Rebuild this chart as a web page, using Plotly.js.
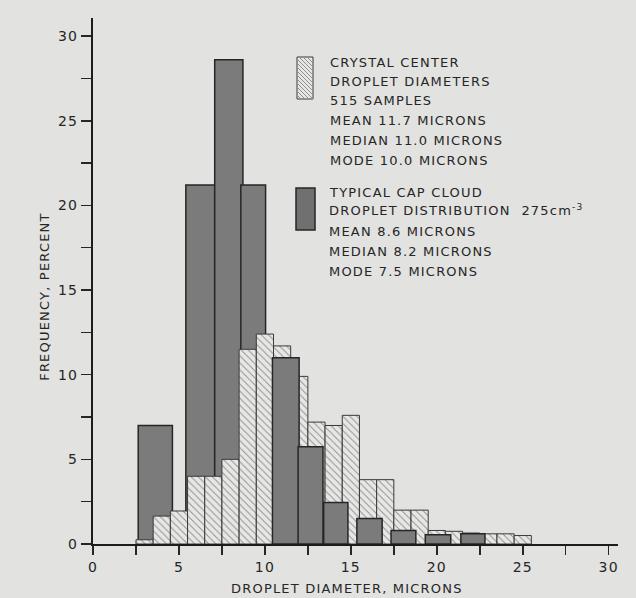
<!DOCTYPE html>
<html>
<head>
<meta charset="utf-8">
<script src="https://cdn.plot.ly/plotly-3.0.1.min.js"></script>
<style>
  html, body { margin: 0; padding: 0; background: #e2e2e0; }
  #chart { width: 636px; height: 598px; }
  #chart svg text { letter-spacing: 1.2px; }
</style>
</head>
<body>
<div id="chart"></div>
<script>
// ---- DATA ----
// Crystal center droplet diameters (hatched), 1-micron bins, centres in microns
const crystalDiameter = [3, 4, 5, 6, 7, 8, 9, 10, 11, 12, 13, 14, 15, 16, 17, 18, 19, 20, 21, 22, 23, 24, 25];
const crystalFreq     = [0.25, 1.65, 1.95, 4.0, 4.0, 5.0, 11.5, 12.4, 11.7, 9.9, 7.2, 7.0, 7.6, 3.8, 3.8, 2.0, 2.0, 0.8, 0.75, 0.65, 0.6, 0.6, 0.5];

// Typical cap cloud droplet distribution (dark), bin edges in microns
const capBinLeft  = [2.63, 5.40, 7.08, 8.60, 10.44, 11.93, 13.42, 15.35, 17.34, 19.33, 21.40];
const capBinRight = [4.62, 7.08, 8.72, 10.04, 11.99, 13.38, 14.83, 16.82, 18.78, 20.81, 22.80];
const capFreq     = [7.0, 21.2, 28.6, 21.2, 11.0, 5.75, 2.45, 1.5, 0.8, 0.55, 0.6];

// Tick values / labels
const xTickVals = [0, 5, 10, 15, 20, 25, 30];
const xTickText = ['0', '5', '10', '15', '20', '25', '30'];
const xMinorVals = [2.5, 7.5, 12.5, 17.5, 22.5, 27.5];
const yTickVals = [0, 5, 10, 15, 20, 25, 30];
const yTickText = ['0', '5', '10', '15', '20', '25', '30'];
const yMinorVals = [2.5, 7.5, 12.5, 17.5, 22.5, 27.5];

// Legend texts
const crystalLegend = ['CRYSTAL CENTER', 'DROPLET DIAMETERS', '515 SAMPLES', 'MEAN 11.7 MICRONS', 'MEDIAN 11.0 MICRONS', 'MODE 10.0 MICRONS'];
const capLegend = ['TYPICAL CAP CLOUD', 'DROPLET DISTRIBUTION  275cm<sup>-3</sup>', 'MEAN 8.6 MICRONS', 'MEDIAN 8.2 MICRONS', 'MODE 7.5 MICRONS'];

const xTitle = 'DROPLET DIAMETER, MICRONS';
const yTitle = 'FREQUENCY, PERCENT';

// ---- STYLE / LAYOUT ----
const W = 636, H = 598;
const M = { l: 93, r: 18, t: 18, b: 54 };
const PW = W - M.l - M.r, PH = H - M.t - M.b;
const px = x => (x - M.l) / PW;          // pixel -> paper x
const py = y => (H - M.b - y) / PH;      // pixel -> paper y

const INK = '#262626';
const PAPER = '#e2e2e0';
const FONT = 'DejaVu Sans, Liberation Sans, sans-serif';

const capCentre = capBinLeft.map((l, i) => (l + capBinRight[i]) / 2);
const capWidth  = capBinLeft.map((l, i) => capBinRight[i] - l);
const under = capBinLeft.map((l, i) => l < 10);   // drawn beneath the hatched bars

function capTrace(keep) {
  const idx = capFreq.map((_, i) => i).filter(i => under[i] === keep);
  return {
    type: 'bar',
    x: idx.map(i => capCentre[i]),
    y: idx.map(i => capFreq[i]),
    width: idx.map(i => capWidth[i]),
    marker: { color: '#7b7b7b', line: { color: INK, width: 1.5 } },
    showlegend: false,
    hoverinfo: 'x+y'
  };
}

const crystalTrace = {
  type: 'bar',
  x: crystalDiameter,
  y: crystalFreq,
  width: 1,
  marker: {
    color: '#e7e7e5',
    line: { color: '#3a3a3a', width: 1 },
    pattern: { shape: '\\', fgcolor: '#8e8e8e', bgcolor: '#e7e7e5', size: 5, solidity: 0.18 }
  },
  showlegend: false,
  hoverinfo: 'x+y'
};

const data = [capTrace(true), crystalTrace, capTrace(false)];

// legend text lines + axis titles
const annotations = [];
const g1Y = [62, 81.5, 100.5, 120.5, 140.5, 160];
const g2Y = [192, 211.5, 231.5, 251.5, 271.5];
const legFont = { family: FONT, size: 13, color: INK };
crystalLegend.forEach((t, i) => annotations.push({
  xref: 'paper', yref: 'paper', x: px(328), y: py(g1Y[i]), xanchor: 'left', yanchor: 'middle', align: 'left',
  text: t, showarrow: false, font: legFont
}));
capLegend.forEach((t, i) => annotations.push({
  xref: 'paper', yref: 'paper', x: px(327), y: py(g2Y[i] - (i === 1 ? 2 : 0)), xanchor: 'left', yanchor: 'middle', align: 'left',
  text: t, showarrow: false, font: legFont
}));
annotations.push({
  xref: 'paper', yref: 'paper', x: px(347), y: py(588), xanchor: 'center', yanchor: 'middle',
  text: xTitle, showarrow: false, font: legFont
});
annotations.push({
  xref: 'paper', yref: 'paper', x: px(44), y: py(297), xanchor: 'center', yanchor: 'middle',
  text: yTitle, textangle: -90, showarrow: false, font: legFont
});

// legend swatches
const s1 = { x0: 297, x1: 313, y0: 57, y1: 99 };
const s2 = { x0: 296, x1: 315, y0: 188, y1: 230 };
let hatch = '';
for (let c = s1.x0 - s1.y1; c <= s1.x1 - s1.y0; c += 4) {
  const xa = Math.max(s1.x0, s1.y0 + c), xb = Math.min(s1.x1, s1.y1 + c);
  if (xb - xa < 0.5) continue;
  hatch += `M${px(xa)},${py(xa - c)}L${px(xb)},${py(xb - c)}`;
}
const shapes = [
  { type: 'rect', xref: 'paper', yref: 'paper', x0: px(s1.x0), x1: px(s1.x1), y0: py(s1.y1), y1: py(s1.y0),
    fillcolor: '#e7e7e5', line: { color: '#3a3a3a', width: 1 } },
  { type: 'path', xref: 'paper', yref: 'paper', path: hatch, line: { color: '#8e8e8e', width: 1 } },
  { type: 'rect', xref: 'paper', yref: 'paper', x0: px(s2.x0), x1: px(s2.x1), y0: py(s2.y1), y1: py(s2.y0),
    fillcolor: '#707070', line: { color: INK, width: 1.5 } }
];

function axis(range, vals, text, minorVals, len) {
  return {
    range: range,
    showline: true, linecolor: '#1c1c1c', linewidth: 2,
    ticks: 'outside', ticklen: len, tickwidth: 1.5, tickcolor: INK,
    tickmode: 'array', tickvals: vals, ticktext: text,
    minor: { tickmode: 'array', tickvals: minorVals, ticks: 'outside', ticklen: len, tickwidth: 1.5, tickcolor: INK, showgrid: false },
    showgrid: false, zeroline: false,
    tickfont: { family: FONT, size: 14, color: INK }
  };
}

const layout = {
  width: W, height: H,
  margin: M,
  paper_bgcolor: PAPER, plot_bgcolor: PAPER,
  barmode: 'overlay',
  showlegend: false,
  xaxis: axis([0, PW / 17.19], xTickVals, xTickText, xMinorVals, 9),
  yaxis: axis([0, PH / 16.93], yTickVals, yTickText, yMinorVals, 10),
  annotations: annotations,
  shapes: shapes
};

Plotly.newPlot('chart', data, layout, { displayModeBar: false, staticPlot: true });
</script>
</body>
</html>
